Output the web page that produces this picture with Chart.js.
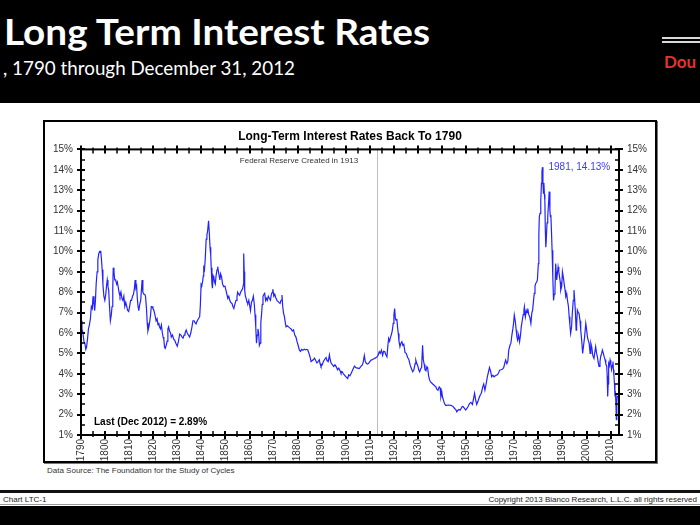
<!DOCTYPE html>
<html>
<head>
<meta charset="utf-8">
<script src="https://cdn.jsdelivr.net/npm/chart.js@4.4.1/dist/chart.umd.min.js"></script>
<style>
  html, body { margin: 0; padding: 0; }
  body { width: 700px; height: 525px; position: relative; overflow: hidden; background: #fff; font-family: "Liberation Sans", Arial, sans-serif; }
  #header { position: absolute; left: 0; top: 0; width: 700px; height: 103px; background: #000; }
  #title { position: absolute; left: 4px; top: 9px; color: #fff; font: bold 36px Lato, "Open Sans", sans-serif; white-space: nowrap; transform-origin: left top; }
  #subtitle { position: absolute; left: 3px; top: 56px; color: #fff; font: 19px Lato, "Open Sans", sans-serif; white-space: nowrap; transform-origin: left top; }
  .wline { position: absolute; left: 662px; width: 38px; height: 2px; background: #d8d8d8; }
  #dou { position: absolute; left: 664px; top: 51px; color: #e5332a; font: bold 17px Lato, "Open Sans", sans-serif; }
  #box { position: absolute; left: 43px; top: 120px; width: 610px; height: 339px; border: 2px solid #000; box-shadow: 1px 1px 0 #777; }
  #wrap { position: absolute; left: 45px; top: 122px; width: 610px; height: 339px; }
  #source { position: absolute; left: 47px; top: 466px; font-size: 8px; color: #333; }
  #fline { position: absolute; left: 0; top: 490px; width: 700px; height: 3px; background: #111; }
  #fleft { position: absolute; left: 3px; top: 495px; font-size: 8px; color: #222; }
  #fright { position: absolute; right: 3px; top: 495px; font-size: 8px; color: #222; }
  #gline { position: absolute; left: 0; top: 504px; width: 700px; height: 1px; background: #999; }
  #fbottom { position: absolute; left: 0; top: 506px; width: 700px; height: 19px; background: #000; }
</style>
</head>
<body>
<div id="header">
  <div id="title">Long Term Interest Rates</div>
  <div id="subtitle">, 1790 through December 31, 2012</div>
  <div class="wline" style="top:37px"></div>
  <div class="wline" style="top:41px"></div>
  <div id="dou">Dou</div>
</div>
<div id="box"></div>
<div id="wrap"><canvas id="rates" width="610" height="339"></canvas></div>
<div id="source">Data Source: The Foundation for the Study of Cycles</div>
<div id="fline"></div>
<div id="fleft">Chart LTC-1</div>
<div id="fright">Copyright 2013 Bianco Research, L.L.C. all rights reserved</div>
<div id="gline"></div>
<div id="fbottom"></div>

<script>
// Long-term rates (year, percent)
const years = [
  1790.0, 1790.4, 1790.8, 1791.2, 1791.6, 1792.0, 1792.3, 1792.7, 1793.1, 1793.5, 1793.9, 1794.3, 1794.7, 1795.0, 1795.4, 1795.7,
  1796.0, 1796.3, 1796.7, 1797.0, 1797.4, 1797.8, 1798.2, 1798.5, 1798.8, 1799.1, 1799.5, 1799.9, 1800.3, 1800.6, 1800.9, 1801.2,
  1801.5, 1801.8, 1802.2, 1802.6, 1802.9, 1803.2, 1803.4, 1803.7, 1804.0, 1804.4, 1804.8, 1805.1, 1805.4, 1805.8, 1806.2, 1806.6,
  1807.0, 1807.4, 1807.8, 1808.2, 1808.6, 1809.0, 1809.4, 1809.8, 1810.2, 1810.6, 1811.0, 1811.4, 1811.8, 1812.2, 1812.5, 1812.8,
  1813.1, 1813.4, 1813.7, 1814.0, 1814.4, 1814.8, 1815.1, 1815.4, 1815.7, 1816.1, 1816.5, 1816.8, 1817.2, 1817.5, 1817.8, 1818.2,
  1818.6, 1818.9, 1819.2, 1819.5, 1819.9, 1820.3, 1820.7, 1821.2, 1821.6, 1822.0, 1822.3, 1822.6, 1823.0, 1823.4, 1823.8, 1824.1,
  1824.4, 1824.7, 1825.0, 1825.4, 1825.8, 1826.1, 1826.4, 1826.8, 1827.2, 1827.5, 1828.0, 1828.5, 1828.9, 1829.4, 1830.0, 1830.5,
  1831.0, 1831.5, 1832.0, 1832.4, 1832.8, 1833.2, 1833.7, 1834.1, 1834.6, 1835.1, 1835.6, 1836.1, 1836.5, 1837.0, 1837.4, 1837.8,
  1838.3, 1838.8, 1839.3, 1839.6, 1839.9, 1840.2, 1840.5, 1840.8, 1841.0, 1841.3, 1841.6, 1842.0, 1842.3, 1842.6, 1843.0, 1843.3,
  1843.6, 1843.9, 1844.1, 1844.4, 1844.6, 1844.9, 1845.2, 1845.5, 1845.8, 1846.1, 1846.5, 1846.8, 1847.1, 1847.4, 1847.7, 1848.0,
  1848.4, 1848.8, 1849.3, 1849.8, 1850.2, 1850.6, 1851.0, 1851.4, 1851.8, 1852.2, 1852.7, 1853.1, 1853.5, 1853.9, 1854.4, 1854.8,
  1855.1, 1855.5, 1855.9, 1856.3, 1856.8, 1857.2, 1857.5, 1857.6, 1857.8, 1858.0, 1858.3, 1858.6, 1859.0, 1859.3, 1859.7, 1860.0,
  1860.4, 1860.8, 1861.2, 1861.6, 1862.0, 1862.3, 1862.6, 1862.9, 1863.2, 1863.5, 1863.8, 1864.1, 1864.4, 1864.7, 1865.0, 1865.3,
  1865.6, 1866.0, 1866.3, 1866.7, 1867.0, 1867.4, 1867.8, 1868.2, 1868.7, 1869.1, 1869.5, 1869.7, 1870.1, 1870.5, 1871.0, 1871.4,
  1871.8, 1872.2, 1872.7, 1873.1, 1873.5, 1873.8, 1874.1, 1874.5, 1874.9, 1875.2, 1875.7, 1876.2, 1876.7, 1877.3, 1877.8, 1878.3,
  1878.8, 1879.3, 1879.7, 1880.2, 1880.7, 1881.2, 1881.7, 1882.2, 1882.8, 1883.3, 1883.8, 1884.2, 1884.7, 1885.1, 1885.6, 1886.1,
  1886.6, 1887.0, 1887.5, 1888.0, 1888.5, 1889.0, 1889.3, 1889.7, 1890.2, 1890.7, 1891.2, 1891.8, 1892.2, 1892.7, 1893.2, 1893.5,
  1893.9, 1894.4, 1895.0, 1895.5, 1896.0, 1896.6, 1897.1, 1897.6, 1898.0, 1898.5, 1899.0, 1899.4, 1899.9, 1900.4, 1900.8, 1901.2,
  1901.7, 1902.2, 1902.9, 1903.6, 1904.2, 1904.9, 1905.6, 1906.2, 1906.8, 1907.2, 1907.7, 1908.1, 1908.6, 1909.0, 1909.4, 1910.0,
  1910.5, 1911.2, 1911.8, 1912.4, 1912.9, 1913.4, 1913.9, 1914.3, 1914.8, 1915.3, 1915.7, 1916.2, 1916.6, 1917.1, 1917.5, 1917.8,
  1918.2, 1918.6, 1919.0, 1919.3, 1919.7, 1920.0, 1920.3, 1920.6, 1920.9, 1921.2, 1921.5, 1921.8, 1922.1, 1922.5, 1922.9, 1923.3,
  1923.7, 1924.1, 1924.6, 1925.1, 1925.7, 1926.2, 1926.8, 1927.3, 1927.8, 1928.3, 1928.8, 1929.1, 1929.5, 1929.9, 1930.3, 1930.7,
  1931.1, 1931.5, 1931.9, 1932.2, 1932.6, 1932.9, 1933.3, 1933.7, 1934.0, 1934.4, 1934.8, 1935.2, 1935.7, 1936.1, 1936.6, 1937.0,
  1937.4, 1937.8, 1938.3, 1938.8, 1939.2, 1939.5, 1939.9, 1940.2, 1940.6, 1941.0, 1941.5, 1942.0, 1942.6, 1943.1, 1943.7, 1944.2,
  1944.7, 1945.2, 1945.7, 1946.1, 1946.5, 1947.0, 1947.5, 1947.9, 1948.4, 1948.8, 1949.3, 1949.8, 1950.3, 1950.8, 1951.4, 1952.0,
  1952.6, 1953.1, 1953.5, 1953.9, 1954.4, 1954.9, 1955.3, 1955.8, 1956.3, 1956.9, 1957.3, 1957.8, 1958.3, 1958.8, 1959.3, 1959.7,
  1960.2, 1960.6, 1961.1, 1961.6, 1962.1, 1962.5, 1963.0, 1963.5, 1963.9, 1964.5, 1965.0, 1965.6, 1966.0, 1966.4, 1966.9, 1967.3,
  1967.7, 1968.2, 1968.6, 1969.0, 1969.4, 1969.7, 1970.0, 1970.4, 1970.8, 1971.1, 1971.4, 1971.8, 1972.2, 1972.6, 1972.9, 1973.3,
  1973.7, 1974.0, 1974.2, 1974.6, 1975.0, 1975.3, 1975.6, 1976.0, 1976.4, 1976.9, 1977.3, 1977.6, 1978.0, 1978.3, 1978.6, 1978.9,
  1979.3, 1979.6, 1980.0, 1980.2, 1980.4, 1980.7, 1981.0, 1981.3, 1981.5, 1981.7, 1981.9, 1982.1, 1982.3, 1982.5, 1982.7, 1982.9,
  1983.1, 1983.3, 1983.6, 1983.9, 1984.2, 1984.5, 1984.8, 1985.0, 1985.2, 1985.5, 1985.7, 1986.0, 1986.3, 1986.6, 1986.9, 1987.2,
  1987.4, 1987.6, 1987.9, 1988.2, 1988.5, 1988.8, 1989.1, 1989.3, 1989.7, 1990.0, 1990.4, 1990.7, 1991.1, 1991.4, 1991.8, 1992.1,
  1992.5, 1992.8, 1993.1, 1993.4, 1993.8, 1994.1, 1994.5, 1994.8, 1995.1, 1995.4, 1995.7, 1995.9, 1996.2, 1996.6, 1996.9, 1997.3,
  1997.6, 1998.0, 1998.4, 1998.8, 1999.2, 1999.7, 2000.0, 2000.4, 2000.8, 2001.1, 2001.5, 2001.8, 2002.2, 2002.6, 2003.1, 2003.4,
  2003.8, 2004.2, 2004.5, 2004.8, 2005.2, 2005.6, 2005.9, 2006.3, 2006.6, 2007.0, 2007.3, 2007.7, 2008.0, 2008.4, 2008.6, 2008.8,
  2009.0, 2009.2, 2009.5, 2009.8, 2010.1, 2010.4, 2010.8, 2011.0, 2011.2, 2011.4, 2011.6, 2011.8, 2012.0, 2012.2, 2012.4, 2012.6,
  2012.8, 2012.95
];
const rates = [
  6.6, 6.2, 6.0, 5.6, 5.5, 5.2, 5.3, 5.7, 6.2, 6.4, 6.7, 7.3, 7.2, 7.8, 7.4, 7.1,
  7.6, 8.4, 9.0, 9.6, 9.9, 10.0, 10.0, 9.6, 9.1, 8.4, 7.8, 7.6, 7.9, 8.3, 8.6, 8.3,
  8.1, 7.4, 6.6, 6.9, 7.3, 8.2, 9.2, 9.0, 8.6, 8.6, 8.4, 8.5, 8.3, 8.0, 7.8, 8.0,
  7.7, 7.6, 7.8, 7.3, 7.5, 7.3, 7.1, 7.05, 7.3, 7.6, 7.6, 7.8, 7.9, 8.2, 8.6, 8.2,
  8.3, 7.7, 7.3, 7.1, 7.4, 7.6, 8.1, 8.6, 8.0, 7.9, 7.9, 7.8, 7.2, 6.5, 6.1, 6.3,
  6.6, 6.9, 7.3, 7.3, 7.2, 7.1, 6.9, 6.6, 6.7, 6.4, 6.5, 6.3, 6.2, 6.4, 6.0, 5.8,
  5.7, 5.3, 5.25, 5.4, 5.6, 6.2, 6.3, 6.1, 6.0, 5.8, 5.9, 5.7, 5.65, 5.5, 5.35, 5.6,
  5.95, 5.9, 5.8, 5.75, 5.9, 6.0, 6.15, 6.0, 5.9, 5.8, 6.0, 6.3, 6.6, 6.6, 6.5, 6.45,
  6.6, 6.7, 6.8, 7.4, 8.4, 8.35, 8.5, 8.8, 9.2, 9.1, 9.6, 10.6, 10.8, 11.0, 11.5, 10.9,
  10.2, 9.8, 9.2, 8.4, 8.2, 8.8, 8.7, 8.5, 8.4, 8.8, 9.1, 9.25, 9.0, 8.8, 8.6, 8.9,
  8.75, 8.4, 8.27, 8.3, 8.1, 7.9, 7.7, 7.8, 7.6, 7.5, 7.45, 7.3, 7.2, 7.4, 7.6, 7.8,
  8.0, 7.9, 7.85, 8.0, 8.1, 8.2, 8.4, 9.9, 9.0, 8.1, 7.8, 7.7, 7.5, 7.45, 7.6, 7.4,
  7.1, 7.5, 7.6, 7.8, 7.4, 6.9, 6.3, 5.5, 5.9, 6.2, 6.0, 5.4, 5.5, 6.5, 6.9, 7.4,
  7.8, 7.9, 7.95, 7.6, 7.7, 7.6, 7.8, 7.7, 7.6, 7.9, 8.0, 8.15, 7.8, 7.9, 7.7, 7.6,
  7.55, 7.5, 7.45, 7.6, 7.86, 7.3, 7.0, 6.8, 6.5, 6.3, 6.35, 6.3, 6.25, 6.2, 6.1, 6.15,
  5.9, 5.8, 5.6, 5.4, 5.17, 5.1, 5.2, 5.15, 5.2, 5.17, 5.2, 5.17, 5.0, 4.85, 4.6, 4.65,
  4.7, 4.77, 4.65, 4.53, 4.6, 4.69, 4.5, 4.36, 4.45, 4.6, 4.7, 4.8, 4.65, 4.6, 4.93, 4.7,
  4.53, 4.45, 4.36, 4.44, 4.35, 4.2, 4.28, 4.15, 4.03, 4.1, 4.0, 3.95, 3.87, 3.82, 3.77, 3.95,
  3.9, 4.02, 4.2, 4.38, 4.3, 4.28, 4.26, 4.35, 4.42, 4.55, 4.9, 4.6, 4.5, 4.48, 4.5, 4.6,
  4.67, 4.7, 4.75, 4.78, 4.83, 4.9, 5.08, 5.0, 5.16, 4.9, 5.1, 5.08, 4.95, 4.83, 5.4, 5.73,
  5.6, 5.8, 5.95, 6.1, 6.47, 6.9, 7.2, 6.7, 6.63, 6.7, 6.3, 5.98, 5.6, 5.33, 5.5, 5.57,
  5.4, 5.45, 5.05, 5.0, 4.8, 4.7, 4.4, 4.25, 4.1, 4.2, 4.5, 4.67, 4.5, 4.4, 4.2, 4.1,
  4.25, 4.3, 5.4, 4.7, 4.45, 4.2, 4.15, 4.35, 4.3, 3.9, 3.7, 3.6, 3.55, 3.5, 3.45, 3.4,
  3.36, 3.25, 3.2, 3.36, 3.3, 2.87, 3.1, 2.85, 2.7, 2.54, 2.45, 2.45, 2.47, 2.46, 2.45, 2.42,
  2.38, 2.3, 2.25, 2.14, 2.2, 2.25, 2.22, 2.3, 2.4, 2.38, 2.3, 2.22, 2.3, 2.4, 2.54, 2.6,
  2.5, 2.8, 3.05, 2.75, 2.5, 2.65, 2.79, 2.95, 3.05, 3.36, 3.5, 3.2, 3.5, 3.85, 4.1, 4.3,
  4.1, 3.85, 3.93, 3.85, 3.9, 3.93, 3.95, 4.05, 4.18, 4.2, 4.22, 4.3, 4.5, 4.67, 4.5, 4.6,
  5.16, 5.4, 5.5, 5.9, 6.2, 6.47, 6.88, 6.6, 6.14, 5.8, 5.65, 5.9, 5.57, 5.9, 6.31, 6.6,
  6.9, 7.1, 7.28, 6.8, 7.1, 7.0, 7.2, 6.9, 6.8, 6.47, 7.0, 7.1, 7.6, 7.94, 8.3, 8.43,
  8.5, 8.6, 9.4, 10.8, 11.7, 11.86, 12.5, 13.35, 13.9, 14.13, 13.4, 12.85, 13.35, 12.8, 12.5, 11.0,
  10.2, 10.6, 11.4, 11.7, 12.3, 12.93, 12.0, 11.7, 11.78, 10.8, 10.06, 8.75, 7.6, 7.9, 8.1, 9.4,
  9.0, 8.6, 8.9, 9.24, 9.0, 8.75, 8.5, 8.1, 8.3, 9.0, 8.7, 8.43, 8.1, 7.78, 7.9, 7.6,
  7.3, 6.8, 6.4, 5.98, 6.3, 6.97, 7.6, 8.1, 7.6, 7.0, 6.14, 6.4, 7.12, 7.0, 6.97, 6.6,
  6.14, 5.65, 5.0, 5.4, 5.8, 6.47, 6.2, 5.8, 5.6, 5.5, 5.0, 5.5, 5.3, 4.9, 4.75, 5.0,
  5.33, 5.0, 4.85, 4.6, 4.36, 4.6, 4.85, 5.0, 5.16, 5.0, 4.85, 4.7, 4.5, 4.36, 3.9, 2.89,
  3.5, 4.5, 4.4, 4.67, 4.5, 4.2, 4.44, 4.6, 4.2, 3.9, 3.54, 3.0, 3.05, 2.6, 1.75, 2.6,
  2.9, 2.89
];

const yearTicks = [1790, 1800, 1810, 1820, 1830, 1840, 1850, 1860, 1870, 1880, 1890, 1900,
  1910, 1920, 1930, 1940, 1950, 1960, 1970, 1980, 1990, 2000, 2010];
const fedYear = 1913;
const fedLabel = 'Federal Reserve Created in 1913';
const peakYear = 1981.7;
const peakRate = 14.13;
const peakLabel = '1981, 14.13%';
const lastLabel = 'Last (Dec 2012) = 2.89%';

const font = '"Liberation Sans", Arial, sans-serif';
const narrow = '"Liberation Sans Narrow", "Liberation Sans", Arial, sans-serif';

// stretch the slide header text to the width it has in the original
function fitWidth(id, w) {
  const el = document.getElementById(id);
  el.style.transform = 'scaleX(' + (w / el.getBoundingClientRect().width) + ')';
}
fitWidth('title', 426);
fitWidth('subtitle', 292);

const frame = {
  id: 'frame',
  beforeDatasetsDraw(chart) {
    const { ctx, chartArea: a, scales: { x } } = chart;
    const fx = Math.round(x.getPixelForValue(fedYear)) + 0.5;
    ctx.save();
    ctx.strokeStyle = '#bdbdbd';
    ctx.lineWidth = 1;
    ctx.beginPath();
    ctx.moveTo(fx, a.top);
    ctx.lineTo(fx, a.bottom);
    ctx.stroke();
    ctx.restore();
  },
  afterDatasetsDraw(chart) {
    const { ctx, chartArea: a, scales: { x, y } } = chart;
    const line = (x1, y1, x2, y2) => { ctx.beginPath(); ctx.moveTo(x1, y1); ctx.lineTo(x2, y2); ctx.stroke(); };
    ctx.save();
    ctx.strokeStyle = '#000';
    ctx.lineWidth = 2;
    ctx.strokeRect(a.left, a.top, a.right - a.left, a.bottom - a.top);

    for (let v = 1; v <= 15; v += 0.5) {
      const py = Math.round(y.getPixelForValue(v));
      const major = v % 1 === 0;
      ctx.lineWidth = major ? 2 : 1.5;
      line(a.left - (major ? 4 : 0), py, a.left + 4, py);
      line(a.right - 4, py, a.right + (major ? 4 : 0), py);
    }
    for (let yr = 1790; yr <= 2010; yr += 5) {
      const px = Math.round(x.getPixelForValue(yr));
      const major = yr % 10 === 0;
      ctx.lineWidth = major ? 2 : 1.5;
      line(px, a.bottom - 4, px, a.bottom + (major ? 4 : 2));
      line(px, a.top - (major ? 4 : 2), px, a.top + 4);
    }

    ctx.textBaseline = 'middle';
    ctx.font = '8px ' + font;
    ctx.fillStyle = '#333';
    ctx.textAlign = 'right';
    ctx.fillText(fedLabel, x.getPixelForValue(fedYear) - 19, a.top + 11);

    ctx.font = '10px ' + font;
    ctx.fillStyle = '#3b3bf0';
    ctx.textAlign = 'left';
    ctx.fillText(peakLabel, x.getPixelForValue(peakYear) + 6, y.getPixelForValue(peakRate));

    ctx.font = 'bold 10px ' + font;
    ctx.fillStyle = '#000';
    ctx.fillText(lastLabel, a.left + 13, a.bottom - 13);
    ctx.restore();
  }
};

const pctTicks = {
  stepSize: 1,
  color: '#333',
  font: { family: font, size: 10 },
  padding: 8,
  callback: v => v + '%'
};

new Chart(document.getElementById('rates'), {
  type: 'line',
  data: {
    datasets: [{
      data: years.map((yr, i) => ({ x: yr, y: rates[i] })),
      borderColor: '#2222ff',
      borderWidth: 1.2,
      pointRadius: 0,
      tension: 0,
      fill: false
    }]
  },
  options: {
    responsive: false,
    animation: false,
    devicePixelRatio: 1,
    layout: { padding: 0 },
    plugins: {
      legend: { display: false },
      tooltip: { enabled: false },
      title: {
        display: true,
        text: 'Long-Term Interest Rates Back To 1790',
        color: '#000',
        font: { family: font, size: 12, weight: 'bold' },
        padding: { top: 7, bottom: 6 }
      }
    },
    scales: {
      x: {
        type: 'linear',
        min: 1790,
        max: 2013.5,
        grid: { display: false, drawTicks: false },
        border: { display: false },
        afterBuildTicks: s => { s.ticks = yearTicks.map(v => ({ value: v })); },
        ticks: {
          autoSkip: false,
          includeBounds: false,
          minRotation: 90,
          maxRotation: 90,
          padding: 4,
          color: '#333',
          font: { family: narrow, size: 10 },
          callback: v => String(v)
        },
        afterFit: s => { s.height = 26; }
      },
      y: {
        position: 'left',
        min: 1,
        max: 15,
        grid: { display: false, drawTicks: false },
        border: { display: false },
        ticks: pctTicks,
        afterFit: s => { s.width = 36; }
      },
      y2: {
        position: 'right',
        min: 1,
        max: 15,
        grid: { display: false, drawTicks: false },
        border: { display: false },
        ticks: pctTicks,
        afterFit: s => { s.width = 36; }
      }
    }
  },
  plugins: [frame]
});
</script>
</body>
</html>
